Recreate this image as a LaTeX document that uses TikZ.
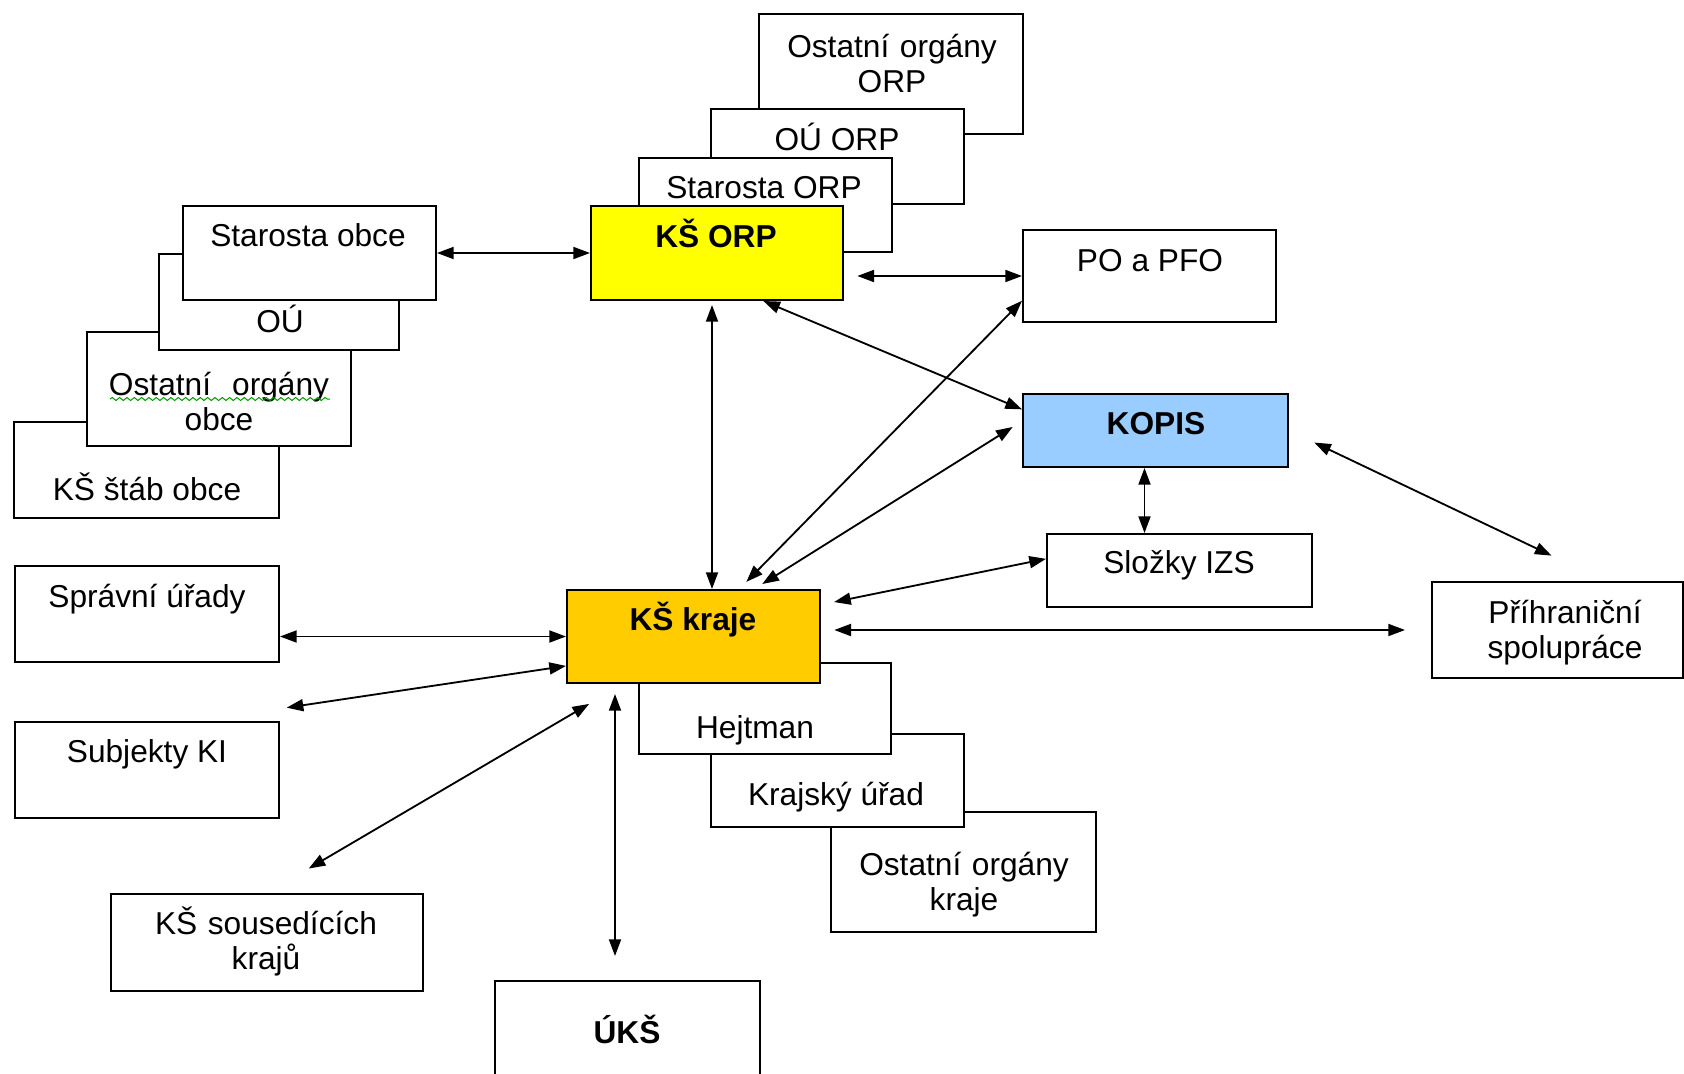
\documentclass[tikz,border=0pt]{standalone}
\usepackage{fontspec}
\setmainfont{Liberation Sans}
\usepackage{xcolor}
\usepackage{tikz}
\usetikzlibrary{arrows.meta, fit, decorations.pathmorphing}
\definecolor{orpyellow}{HTML}{FFFF00}
\definecolor{krajorange}{HTML}{FFCC00}
\definecolor{kopisblue}{HTML}{99CCFF}

\begin{document}
\begin{tikzpicture}[x=0.3pt, y=-0.3pt,
		>={Triangle[length=5pt, width=3.6pt]},
		box/.style={draw, line width=0.6pt, fill=white, inner sep=0pt},
		txt/.style={anchor=base, inner sep=0pt, font=\fontsize{9.5}{10.5}\selectfont},
		ttxt/.style={txt, text width=100pt, align=center},
		btxt/.style={txt, font=\fontsize{9.5}{10.5}\selectfont\bfseries},
		arr/.style={<->, line width=0.55pt}]
		\useasboundingbox (0,0) rectangle (1684,1074);

		% ORP
		\node[box, fit={(759,14) (1023,134)}] (orpo) {};
		\node[ttxt] (orpo-t) at (892,57) {Ostatní orgány\\ORP};
		\node[box, fit={(711,109) (964,204)}] (orpou) {};
		\node[txt] (orpou-t) at (837,150) {OÚ ORP};
		\node[box, fit={(639,158) (892,252)}] (orpst) {};
		\node[txt] (orpst-t) at (764,198) {Starosta ORP};
		\node[box, fill=orpyellow, fit={(591,206) (843,300)}] (orp) {};
		\node[btxt] (orp-t) at (716,247) {KŠ ORP};

		% obec
		\node[box, fit={(14,422) (279,518)}] (obks) {};
		\node[txt] (obks-t) at (147,500) {KŠ štáb obce};
		\node[box, fit={(87,332) (351,446)}] (obo) {};
		\node[ttxt] (obo-t) at (219,395) {Ostatní\ \ orgány\\obce};
		\draw[green!60!black, line width=0.3pt, decorate,
			decoration={snake, amplitude=0.45pt, segment length=2.2pt}] (110,399) -- (330,399);
		\node[box, fit={(159,254) (399,350)}] (obou) {};
		\node[txt] (obou-t) at (280,332) {OÚ};
		\node[box, fit={(183,206) (436,300)}] (obst) {};
		\node[txt] (obst-t) at (308,246) {Starosta obce};

		% vpravo
		\node[box, fit={(1023,230) (1276,322)}] (po) {};
		\node[txt] (po-t) at (1150,271) {PO a PFO};
		\node[box, fill=kopisblue, fit={(1023,394) (1288,467)}] (kopis) {};
		\node[btxt] (kopis-t) at (1156,434) {KOPIS};
		\node[box, fit={(1047,534) (1312,607)}] (izs) {};
		\node[txt] (izs-t) at (1179,573) {Složky IZS};
		\node[box, fit={(1432,582) (1683,678)}] (prh) {};
		\node[ttxt] (prh-t) at (1565,623) {Příhraniční\\spolupráce};

		% kraj
		\node[box, fit={(831,812) (1096,932)}] (krao) {};
		\node[ttxt] (krao-t) at (964,875) {Ostatní orgány\\kraje};
		\node[box, fit={(711,734) (964,827)}] (ku) {};
		\node[txt] (ku-t) at (836,805) {Krajský úřad};
		\node[box, fit={(639,663) (891,754)}] (hejt) {};
		\node[txt] (hejt-t) at (755,738) {Hejtman};
		\node[box, fill=krajorange, fit={(567,590) (820,683)}] (kraj) {};
		\node[btxt] (kraj-t) at (693,630) {KŠ kraje};

		% vlevo a dole
		\node[box, fit={(15,566) (279,662)}] (spr) {};
		\node[txt] (spr-t) at (147,607) {Správní úřady};
		\node[box, fit={(15,722) (279,818)}] (ski) {};
		\node[txt] (ski-t) at (147,762) {Subjekty KI};
		\node[box, fit={(111,894) (423,991)}] (sous) {};
		\node[ttxt] (sous-t) at (266,934) {KŠ sousedících\\krajů};
		\node[box, fit={(495,981) (760,1090)}] (uks) {};
		\node[btxt] (uks-t) at (627,1043) {ÚKŠ};

		% vazby
		\draw[arr] (obst.east) -- (orp.west);
		\draw[arr, shorten <=4pt] (po.west -| orp.east) -- (po.west);
		\coordinate (ox) at ([xshift=-1.5pt]orp.south);
		\draw[arr, shorten <=1.2pt] (ox) -- (ox |- kraj.north);
		\draw[arr] (orp.-46) -- (kopis.171);
		\draw[arr, shorten <=3pt] (kraj.46) -- (po.191);
		\draw[arr, shorten <=2.8pt, shorten >=3.3pt] (kraj.38) -- (kopis.176);
		\coordinate (kx) at ([xshift=-3.3pt]kopis.south);
		\draw[arr] (kx) -- (kx |- izs.north);
		\draw[arr, shorten <=8.4pt, shorten >=17.7pt] (kopis.east) -- (prh.46);
		\draw[arr, shorten <=4pt] (kraj.14) -- (izs.175);
		\draw[arr, shorten <=4pt, shorten >=7.8pt] (prh.west -| kraj.east) -- (prh.west);
		\draw[arr] (kraj.west -| spr.east) -- (kraj.west);
		\draw[arr] ([shift={(2pt,4pt)}]ski.north east) -- (kraj.193);
		\draw[arr, shorten <=14.5pt, shorten >=11.8pt] (sous.north) -- (kraj.214);
		\coordinate (ux) at ([xshift=-3.75pt]uks.north);
		\draw[arr, shorten <=3pt, shorten >=7.2pt] (ux |- kraj.south) -- (ux);
	\end{tikzpicture}
\end{document}
